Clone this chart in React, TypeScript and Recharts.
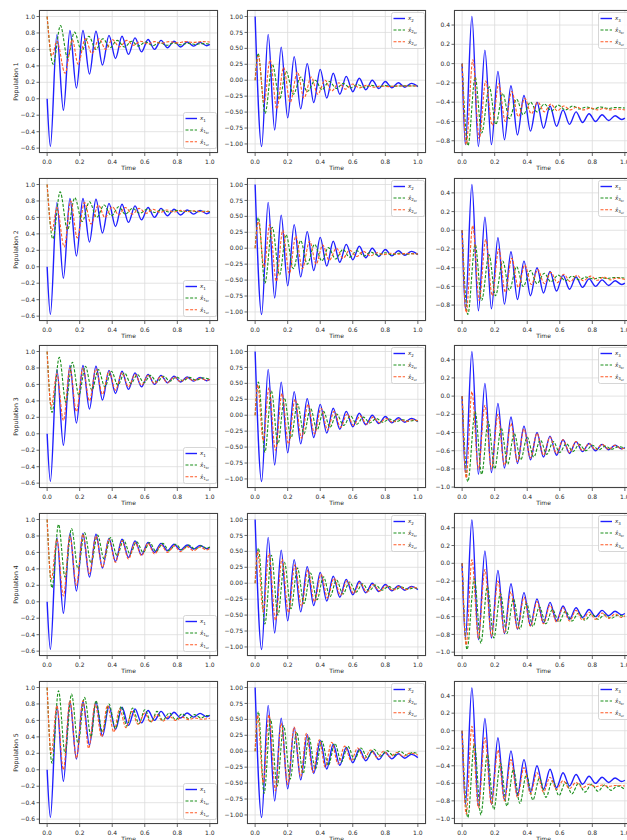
import React from 'react';
import { LineChart, Line, XAxis, YAxis, CartesianGrid, Legend, Label } from 'recharts';

type P = [number, number][];

// ---------- tick labels ----------
const timeTicks = [0, 0.2, 0.4, 0.6, 0.8, 1.0];
const ticksCol1 = [-0.6, -0.4, -0.2, 0, 0.2, 0.4, 0.6, 0.8, 1.0];
const ticksCol2 = [-1, -0.75, -0.5, -0.25, 0, 0.25, 0.5, 0.75, 1];
const ticksCol3a = [-0.8, -0.6, -0.4, -0.2, 0, 0.2, 0.4];
const ticksCol3b = [-1.0, -0.8, -0.6, -0.4, -0.2, 0, 0.2, 0.4];
const populations = ['Population 1', 'Population 2', 'Population 3', 'Population 4', 'Population 5'];

// ---------- true states (same in every row) ----------
const x1True: P = [[0,0],[0.02,-0.58],[0.06,0.78],[0.10,-0.14],[0.14,0.83],[0.18,0.13],[0.22,0.83],[0.26,0.30],[0.30,0.82],[0.34,0.41],[0.38,0.77],[0.42,0.49],[0.46,0.76],[0.50,0.54],[0.54,0.74],[0.58,0.57],[0.62,0.72],[0.66,0.60],[0.70,0.71],[0.74,0.62],[0.78,0.70],[0.82,0.63],[0.86,0.69],[0.90,0.64],[0.94,0.685],[0.98,0.645],[1.0,0.66]];
const x2True: P = [[0,1.0],[0.04,-1.04],[0.08,0.72],[0.12,-0.78],[0.16,0.52],[0.20,-0.59],[0.24,0.37],[0.28,-0.45],[0.32,0.26],[0.36,-0.35],[0.40,0.17],[0.44,-0.28],[0.48,0.11],[0.52,-0.22],[0.56,0.06],[0.60,-0.18],[0.64,0.03],[0.68,-0.15],[0.72,0.0],[0.76,-0.13],[0.80,-0.02],[0.84,-0.12],[0.88,-0.04],[0.92,-0.11],[0.96,-0.05],[1.0,-0.10]];
const x3True: P = [[0,0],[0.02,-0.84],[0.06,0.49],[0.10,-0.86],[0.14,0.14],[0.18,-0.84],[0.22,-0.08],[0.26,-0.79],[0.30,-0.23],[0.34,-0.74],[0.38,-0.33],[0.42,-0.70],[0.46,-0.40],[0.50,-0.67],[0.54,-0.44],[0.58,-0.65],[0.62,-0.48],[0.66,-0.63],[0.70,-0.50],[0.74,-0.61],[0.78,-0.52],[0.82,-0.60],[0.86,-0.53],[0.90,-0.59],[0.94,-0.54],[0.98,-0.58],[1.0,-0.565]];

// ---------- Population 1 estimates ----------
const p1x1br: P = [[0,1.0],[0.037,0.42],[0.082,0.89],[0.125,0.50],[0.168,0.81],[0.212,0.58],[0.256,0.76],[0.30,0.60],[0.343,0.73],[0.387,0.62],[0.43,0.71],[0.475,0.63],[0.52,0.70],[0.56,0.64],[0.605,0.69],[0.65,0.645],[0.69,0.685],[0.735,0.65],[0.78,0.68],[0.82,0.655],[0.865,0.675],[0.91,0.66],[0.95,0.67],[1.0,0.665]];
const p1x1ur: P = [[0,1.0],[0.03,0.52],[0.06,0.70],[0.11,0.31],[0.155,0.72],[0.19,0.42],[0.235,0.73],[0.275,0.55],[0.32,0.73],[0.36,0.60],[0.40,0.72],[0.445,0.63],[0.49,0.71],[0.53,0.65],[0.575,0.70],[0.62,0.665],[0.66,0.695],[0.70,0.675],[0.75,0.695],[0.80,0.68],[0.85,0.695],[0.90,0.685],[0.95,0.695],[1.0,0.69]];
const p1x2br: P = [[0,0],[0.018,0.42],[0.061,-0.52],[0.106,0.25],[0.15,-0.30],[0.19,0.14],[0.235,-0.22],[0.28,0.05],[0.32,-0.18],[0.37,0.0],[0.41,-0.15],[0.455,-0.02],[0.50,-0.13],[0.54,-0.05],[0.585,-0.12],[0.63,-0.07],[0.67,-0.11],[0.71,-0.08],[0.76,-0.10],[0.80,-0.085],[0.85,-0.095],[0.90,-0.088],[1.0,-0.09]];
const p1x2ur: P = [[0,0],[0.02,0.38],[0.055,-0.35],[0.092,0.32],[0.133,-0.45],[0.175,0.20],[0.215,-0.35],[0.26,0.13],[0.30,-0.28],[0.345,0.05],[0.385,-0.22],[0.43,0.0],[0.47,-0.17],[0.515,-0.04],[0.555,-0.14],[0.60,-0.06],[0.64,-0.12],[0.685,-0.08],[0.73,-0.11],[0.77,-0.09],[0.82,-0.10],[0.87,-0.09],[1.0,-0.09]];
const p1x3br: P = [[0,0],[0.036,-0.85],[0.08,-0.14],[0.12,-0.72],[0.167,-0.24],[0.207,-0.63],[0.25,-0.31],[0.29,-0.57],[0.335,-0.37],[0.375,-0.53],[0.42,-0.40],[0.46,-0.50],[0.505,-0.42],[0.55,-0.49],[0.59,-0.43],[0.635,-0.48],[0.68,-0.44],[0.72,-0.47],[0.765,-0.45],[0.81,-0.47],[0.85,-0.45],[0.90,-0.465],[0.94,-0.455],[1.0,-0.46]];
const p1x3ur: P = [[0,0],[0.025,-0.84],[0.066,0.04],[0.105,-0.78],[0.145,-0.18],[0.185,-0.64],[0.225,-0.21],[0.265,-0.60],[0.305,-0.29],[0.345,-0.55],[0.385,-0.36],[0.425,-0.52],[0.465,-0.40],[0.505,-0.50],[0.545,-0.42],[0.585,-0.49],[0.625,-0.44],[0.665,-0.48],[0.705,-0.45],[0.745,-0.48],[0.79,-0.46],[0.83,-0.48],[0.87,-0.465],[0.91,-0.48],[0.95,-0.47],[1.0,-0.48]];

// ---------- Population 2 estimates ----------
const p2x1br: P = [[0,1.0],[0.035,0.34],[0.08,0.91],[0.125,0.45],[0.17,0.84],[0.215,0.55],[0.26,0.79],[0.305,0.60],[0.35,0.75],[0.395,0.62],[0.44,0.73],[0.48,0.64],[0.525,0.71],[0.57,0.65],[0.615,0.70],[0.66,0.66],[0.705,0.69],[0.75,0.665],[0.79,0.685],[0.84,0.67],[0.88,0.68],[0.93,0.67],[0.97,0.675],[1.0,0.67]];
const p2x1ur: P = [[0,1.0],[0.03,0.44],[0.06,0.72],[0.105,0.24],[0.145,0.80],[0.185,0.35],[0.23,0.78],[0.27,0.52],[0.315,0.75],[0.355,0.60],[0.40,0.73],[0.44,0.63],[0.48,0.72],[0.525,0.64],[0.565,0.71],[0.61,0.65],[0.65,0.70],[0.695,0.66],[0.735,0.69],[0.78,0.665],[0.82,0.685],[0.865,0.67],[0.905,0.68],[0.95,0.67],[1.0,0.675]];
const p2x2br: P = [[0,0],[0.02,0.48],[0.06,-0.55],[0.105,0.33],[0.15,-0.42],[0.19,0.21],[0.235,-0.32],[0.28,0.12],[0.32,-0.25],[0.365,0.06],[0.41,-0.20],[0.45,0.01],[0.495,-0.17],[0.54,-0.02],[0.58,-0.14],[0.625,-0.04],[0.67,-0.12],[0.71,-0.06],[0.755,-0.11],[0.80,-0.07],[0.84,-0.10],[0.885,-0.08],[0.93,-0.095],[0.97,-0.085],[1.0,-0.09]];
const p2x2ur: P = [[0,0],[0.02,0.42],[0.055,-0.30],[0.09,0.37],[0.13,-0.52],[0.17,0.28],[0.21,-0.40],[0.25,0.19],[0.29,-0.32],[0.335,0.11],[0.375,-0.25],[0.415,0.05],[0.455,-0.19],[0.50,0.0],[0.54,-0.16],[0.58,-0.03],[0.625,-0.13],[0.665,-0.05],[0.71,-0.12],[0.75,-0.07],[0.79,-0.10],[0.835,-0.08],[0.875,-0.095],[0.92,-0.085],[1.0,-0.09]];
const p2x3br: P = [[0,0],[0.035,-0.90],[0.08,-0.15],[0.12,-0.75],[0.165,-0.26],[0.205,-0.70],[0.25,-0.33],[0.29,-0.64],[0.335,-0.39],[0.375,-0.60],[0.42,-0.43],[0.46,-0.57],[0.505,-0.46],[0.545,-0.55],[0.59,-0.48],[0.635,-0.54],[0.675,-0.49],[0.72,-0.53],[0.76,-0.50],[0.805,-0.52],[0.85,-0.505],[0.89,-0.515],[0.935,-0.505],[1.0,-0.51]];
const p2x3ur: P = [[0,0],[0.025,-0.88],[0.065,0.05],[0.105,-0.75],[0.145,-0.10],[0.185,-0.70],[0.225,-0.20],[0.265,-0.66],[0.305,-0.30],[0.345,-0.61],[0.385,-0.37],[0.425,-0.58],[0.465,-0.42],[0.505,-0.57],[0.545,-0.45],[0.585,-0.56],[0.625,-0.47],[0.665,-0.55],[0.705,-0.48],[0.745,-0.54],[0.79,-0.49],[0.83,-0.535],[0.87,-0.50],[0.91,-0.53],[0.95,-0.51],[1.0,-0.525]];

// ---------- Population 3 estimates ----------
const p3x1br: P = [[0,1.0],[0.03,0.26],[0.075,0.93],[0.115,0.38],[0.155,0.87],[0.195,0.47],[0.235,0.82],[0.275,0.53],[0.315,0.78],[0.355,0.57],[0.395,0.76],[0.435,0.59],[0.475,0.74],[0.515,0.61],[0.555,0.72],[0.595,0.62],[0.635,0.71],[0.675,0.63],[0.715,0.70],[0.755,0.64],[0.795,0.69],[0.835,0.645],[0.875,0.685],[0.915,0.65],[0.955,0.68],[1.0,0.66]];
const p3x1ur: P = [[0,1.0],[0.025,0.33],[0.06,0.73],[0.10,0.16],[0.14,0.80],[0.18,0.27],[0.22,0.80],[0.26,0.40],[0.30,0.79],[0.34,0.48],[0.38,0.76],[0.42,0.53],[0.46,0.74],[0.50,0.57],[0.54,0.72],[0.58,0.59],[0.62,0.71],[0.66,0.61],[0.70,0.70],[0.74,0.62],[0.78,0.69],[0.82,0.635],[0.86,0.68],[0.90,0.645],[0.94,0.675],[0.98,0.65],[1.0,0.66]];
const p3x2br: P = [[0,0],[0.02,0.52],[0.06,-0.58],[0.10,0.38],[0.14,-0.45],[0.18,0.27],[0.22,-0.36],[0.26,0.18],[0.30,-0.29],[0.34,0.11],[0.38,-0.23],[0.42,0.06],[0.46,-0.19],[0.50,0.02],[0.545,-0.16],[0.585,-0.01],[0.625,-0.14],[0.665,-0.03],[0.705,-0.12],[0.745,-0.05],[0.785,-0.11],[0.825,-0.06],[0.865,-0.10],[0.905,-0.07],[0.945,-0.095],[0.98,-0.08],[1.0,-0.09]];
const p3x2ur: P = [[0,0],[0.015,0.48],[0.05,-0.40],[0.085,0.43],[0.125,-0.55],[0.165,0.34],[0.205,-0.45],[0.245,0.25],[0.285,-0.36],[0.325,0.17],[0.365,-0.29],[0.405,0.11],[0.445,-0.23],[0.485,0.06],[0.525,-0.19],[0.565,0.02],[0.605,-0.16],[0.645,-0.01],[0.685,-0.14],[0.725,-0.03],[0.765,-0.12],[0.805,-0.05],[0.845,-0.11],[0.885,-0.06],[0.925,-0.10],[0.965,-0.07],[1.0,-0.09]];
const p3x3br: P = [[0,0],[0.035,-0.94],[0.08,-0.17],[0.12,-0.86],[0.16,-0.28],[0.20,-0.80],[0.24,-0.35],[0.28,-0.75],[0.32,-0.41],[0.36,-0.70],[0.40,-0.45],[0.44,-0.67],[0.48,-0.48],[0.52,-0.64],[0.56,-0.50],[0.60,-0.62],[0.64,-0.52],[0.68,-0.61],[0.72,-0.53],[0.76,-0.60],[0.80,-0.54],[0.84,-0.59],[0.88,-0.55],[0.92,-0.585],[0.96,-0.555],[1.0,-0.575]];
const p3x3ur: P = [[0,0],[0.025,-0.90],[0.06,0.05],[0.10,-0.80],[0.14,-0.10],[0.18,-0.80],[0.22,-0.20],[0.26,-0.76],[0.30,-0.30],[0.34,-0.72],[0.38,-0.36],[0.42,-0.68],[0.46,-0.41],[0.50,-0.65],[0.54,-0.45],[0.58,-0.63],[0.62,-0.48],[0.66,-0.62],[0.70,-0.50],[0.74,-0.60],[0.78,-0.52],[0.82,-0.59],[0.86,-0.53],[0.90,-0.585],[0.94,-0.54],[0.98,-0.58],[1.0,-0.57]];

// ---------- Population 4 estimates ----------
const p4x1br: P = [[0,1.0],[0.03,0.17],[0.07,0.94],[0.11,0.30],[0.15,0.89],[0.19,0.40],[0.23,0.84],[0.27,0.47],[0.31,0.81],[0.35,0.52],[0.39,0.78],[0.43,0.56],[0.47,0.75],[0.51,0.58],[0.55,0.73],[0.59,0.60],[0.63,0.72],[0.67,0.61],[0.71,0.71],[0.75,0.62],[0.79,0.70],[0.83,0.63],[0.87,0.69],[0.91,0.64],[0.95,0.68],[0.98,0.65],[1.0,0.665]];
const p4x1ur: P = [[0,1.0],[0.025,0.27],[0.06,0.76],[0.10,0.07],[0.14,0.80],[0.18,0.20],[0.22,0.82],[0.26,0.34],[0.30,0.80],[0.34,0.42],[0.38,0.76],[0.42,0.48],[0.46,0.74],[0.50,0.52],[0.54,0.72],[0.58,0.56],[0.62,0.71],[0.66,0.58],[0.70,0.69],[0.74,0.60],[0.78,0.68],[0.82,0.61],[0.86,0.67],[0.90,0.62],[0.94,0.665],[0.98,0.63],[1.0,0.65]];
const p4x2br: P = [[0,0],[0.02,0.55],[0.06,-0.64],[0.10,0.44],[0.14,-0.50],[0.18,0.33],[0.22,-0.40],[0.26,0.24],[0.30,-0.32],[0.34,0.16],[0.38,-0.26],[0.42,0.10],[0.46,-0.21],[0.50,0.05],[0.54,-0.17],[0.58,0.02],[0.62,-0.14],[0.66,-0.01],[0.70,-0.12],[0.74,-0.03],[0.78,-0.11],[0.82,-0.05],[0.86,-0.10],[0.90,-0.06],[0.94,-0.095],[0.98,-0.07],[1.0,-0.09]];
const p4x2ur: P = [[0,0],[0.015,0.50],[0.05,-0.45],[0.085,0.47],[0.125,-0.58],[0.165,0.38],[0.205,-0.46],[0.245,0.29],[0.285,-0.36],[0.325,0.21],[0.365,-0.29],[0.405,0.14],[0.445,-0.23],[0.485,0.08],[0.525,-0.19],[0.565,0.04],[0.605,-0.16],[0.645,0.01],[0.685,-0.14],[0.725,-0.02],[0.765,-0.12],[0.805,-0.04],[0.845,-0.11],[0.885,-0.05],[0.925,-0.10],[0.965,-0.06],[1.0,-0.085]];
const p4x3br: P = [[0,0],[0.03,-0.97],[0.075,-0.17],[0.115,-0.90],[0.155,-0.26],[0.195,-0.84],[0.235,-0.34],[0.275,-0.79],[0.315,-0.40],[0.355,-0.74],[0.395,-0.45],[0.435,-0.71],[0.475,-0.49],[0.515,-0.68],[0.555,-0.52],[0.595,-0.66],[0.635,-0.54],[0.675,-0.65],[0.715,-0.56],[0.755,-0.64],[0.795,-0.57],[0.835,-0.63],[0.875,-0.58],[0.915,-0.62],[0.955,-0.585],[1.0,-0.60]];
const p4x3ur: P = [[0,0],[0.025,-0.92],[0.06,0.04],[0.10,-0.84],[0.14,-0.07],[0.18,-0.82],[0.22,-0.20],[0.26,-0.78],[0.30,-0.32],[0.34,-0.74],[0.38,-0.38],[0.42,-0.71],[0.46,-0.43],[0.50,-0.68],[0.54,-0.47],[0.58,-0.66],[0.62,-0.50],[0.66,-0.65],[0.70,-0.53],[0.74,-0.64],[0.78,-0.55],[0.82,-0.63],[0.86,-0.56],[0.90,-0.62],[0.94,-0.57],[0.98,-0.61],[1.0,-0.59]];

// ---------- Population 5 estimates ----------
const p5x1br: P = [[0,1.0],[0.03,0.08],[0.07,0.96],[0.11,0.20],[0.15,0.92],[0.19,0.32],[0.23,0.88],[0.27,0.40],[0.30,0.84],[0.34,0.46],[0.38,0.80],[0.42,0.50],[0.455,0.77],[0.49,0.53],[0.525,0.75],[0.565,0.56],[0.60,0.73],[0.64,0.58],[0.675,0.71],[0.71,0.60],[0.75,0.69],[0.79,0.61],[0.83,0.68],[0.87,0.62],[0.905,0.67],[0.945,0.63],[0.98,0.66],[1.0,0.655]];
const p5x1ur: P = [[0,1.0],[0.025,0.20],[0.06,0.78],[0.10,0.0],[0.14,0.84],[0.18,0.14],[0.22,0.84],[0.255,0.26],[0.295,0.80],[0.335,0.40],[0.37,0.78],[0.41,0.46],[0.445,0.74],[0.485,0.51],[0.52,0.71],[0.56,0.55],[0.60,0.69],[0.635,0.58],[0.675,0.67],[0.71,0.59],[0.75,0.65],[0.79,0.60],[0.83,0.64],[0.87,0.61],[0.91,0.63],[0.95,0.615],[1.0,0.625]];
const p5x2br: P = [[0,0],[0.02,0.62],[0.055,-0.66],[0.095,0.50],[0.135,-0.55],[0.175,0.40],[0.215,-0.44],[0.255,0.30],[0.295,-0.35],[0.33,0.22],[0.37,-0.28],[0.41,0.16],[0.45,-0.22],[0.49,0.12],[0.53,-0.17],[0.57,0.08],[0.61,-0.13],[0.65,0.05],[0.69,-0.10],[0.73,0.03],[0.77,-0.08],[0.81,0.01],[0.85,-0.07],[0.89,0.0],[0.93,-0.06],[0.97,-0.02],[1.0,-0.04]];
const p5x2ur: P = [[0,0],[0.015,0.57],[0.05,-0.50],[0.085,0.57],[0.125,-0.62],[0.16,0.44],[0.20,-0.52],[0.24,0.38],[0.28,-0.40],[0.315,0.28],[0.355,-0.33],[0.395,0.18],[0.43,-0.25],[0.47,0.14],[0.51,-0.20],[0.55,0.08],[0.59,-0.15],[0.63,0.05],[0.67,-0.12],[0.71,0.02],[0.75,-0.10],[0.79,0.0],[0.83,-0.09],[0.87,-0.02],[0.91,-0.08],[0.95,-0.03],[1.0,-0.06]];
const p5x3br: P = [[0,0],[0.035,-0.99],[0.075,-0.15],[0.115,-0.96],[0.155,-0.27],[0.195,-0.90],[0.235,-0.37],[0.275,-0.86],[0.315,-0.44],[0.355,-0.83],[0.395,-0.50],[0.435,-0.79],[0.475,-0.54],[0.515,-0.76],[0.555,-0.57],[0.595,-0.74],[0.635,-0.59],[0.675,-0.72],[0.715,-0.60],[0.755,-0.70],[0.795,-0.61],[0.835,-0.69],[0.875,-0.62],[0.915,-0.68],[0.955,-0.63],[1.0,-0.67]];
const p5x3ur: P = [[0,0],[0.025,-0.95],[0.06,0.05],[0.10,-0.88],[0.14,-0.08],[0.18,-0.84],[0.22,-0.22],[0.26,-0.80],[0.30,-0.33],[0.34,-0.76],[0.38,-0.42],[0.42,-0.72],[0.46,-0.48],[0.50,-0.70],[0.54,-0.53],[0.58,-0.67],[0.62,-0.57],[0.66,-0.66],[0.70,-0.59],[0.74,-0.65],[0.78,-0.61],[0.82,-0.64],[0.86,-0.62],[0.90,-0.635],[0.94,-0.625],[1.0,-0.63]];

// ---------- layout & style ----------
const BLUE = '#1f1fff';
const GREEN = '#1a8f1a';
const ORANGE = '#ff5a26';
const DASH = '3 1.6';
const FONT = 'DejaVu Sans';
const TEXT = '#262626';

const PLOT_W = 179;
const PLOT_H = 143;
const ML = 37; // y-axis width
const MT = 5;
const MR = 5;
const XH = 25;
const CH_W = ML + PLOT_W + MR;
const CH_H = MT + PLOT_H + XH;
const colLefts = [39, 247, 454];
const rowTops = [10, 178, 345, 513, 681];

const col1Domain: [number, number] = [-0.659, 1.079];
const col2Domain: [number, number] = [-1.142, 1.102];
const col3Domains: [number, number][] = [[-0.927, 0.556], [-0.97, 0.559], [-1.01, 0.562], [-1.043, 0.566], [-1.064, 0.567]];

const estimates: P[][][] = [
  [[p1x1br, p1x1ur], [p1x2br, p1x2ur], [p1x3br, p1x3ur]],
  [[p2x1br, p2x1ur], [p2x2br, p2x2ur], [p2x3br, p2x3ur]],
  [[p3x1br, p3x1ur], [p3x2br, p3x2ur], [p3x3br, p3x3ur]],
  [[p4x1br, p4x1ur], [p4x2br, p4x2ur], [p4x3br, p4x3ur]],
  [[p5x1br, p5x1ur], [p5x2br, p5x2ur], [p5x3br, p5x3ur]],
];
const trueStates = [x1True, x2True, x3True];

const toRows = (p: P) => p.map(([t, v]) => ({ t, v }));
const fmt = (d: number) => (v: number) => {
  const s = Math.abs(v).toFixed(d);
  return v < -1e-9 ? '\u2212' + s : s;
};

function LegendBox({ idx }: { idx: number }) {
  const items = [
    { color: BLUE, dash: undefined as string | undefined, hat: false, sub: '', w: 1.4 },
    { color: GREEN, dash: DASH, hat: true, sub: 'br', w: 1.1 },
    { color: ORANGE, dash: DASH, hat: true, sub: 'ur', w: 1.1 },
  ];
  const ys = [6.5, 18, 29.8];
  return (
    <svg width={34} height={37} style={{ display: 'block', overflow: 'visible' }}>
      <rect x={0.5} y={0.5} width={33} height={36} rx={2} fill="#ffffff" fillOpacity={0.85} stroke="#cccccc" strokeWidth={0.8} />
      {items.map((it, i) => (
        <g key={i}>
          <line x1={2.5} x2={14} y1={ys[i]} y2={ys[i]} stroke={it.color} strokeWidth={it.w} strokeDasharray={it.dash} />
          <text x={17} y={ys[i] + 1.8} fontSize={5.5} fontFamily={FONT} fill={TEXT}>
            <tspan fontStyle="italic">{it.hat ? 'x\u0302' : 'x'}</tspan>
            <tspan fontSize={4} dy={1.2}>{idx}</tspan>
            {it.hat ? <tspan fontSize={3} dy={0.9}>{it.sub}</tspan> : null}
          </text>
        </g>
      ))}
    </svg>
  );
}

function Panel({ row, col }: { row: number; col: number }) {
  const domain = col === 0 ? col1Domain : col === 1 ? col2Domain : col3Domains[row];
  const ticks = col === 0 ? ticksCol1 : col === 1 ? ticksCol2 : row < 2 ? ticksCol3a : ticksCol3b;
  const dec = col === 1 ? 2 : 1;
  const [br, ur] = estimates[row][col];
  const legendLeft = ML + PLOT_W - 1.5 - 34;
  const legendTop = col === 0 ? MT + PLOT_H - 4 - 37 : MT + 1.5;
  const tickStyle = { fontSize: 6, fill: TEXT, fontFamily: FONT };
  return (
    <div style={{ position: 'absolute', left: colLefts[col] - ML, top: rowTops[row] - MT, width: CH_W, height: CH_H }}>
      <LineChart width={CH_W} height={CH_H} margin={{ top: MT, right: MR, left: 0, bottom: 0 }}>
        <CartesianGrid stroke="#dcdcdc" strokeWidth={0.8} />
        <XAxis
          type="number"
          dataKey="t"
          domain={[-0.05, 1.05]}
          ticks={timeTicks}
          interval={0}
          allowDataOverflow
          height={XH}
          axisLine={false}
          tickLine={{ stroke: '#444', strokeWidth: 0.8 }}
          tickSize={3}
          tickMargin={3.5}
          tick={tickStyle}
          tickFormatter={fmt(1)}
        >
          <Label
            content={() => (
              <text x={ML + PLOT_W / 2} y={MT + PLOT_H + 17} textAnchor="middle" fontSize={6} fontFamily={FONT} fill={TEXT}>
                Time
              </text>
            )}
          />
        </XAxis>
        <YAxis
          type="number"
          domain={domain}
          ticks={ticks}
          interval={0}
          allowDataOverflow
          width={ML}
          axisLine={false}
          tickLine={{ stroke: '#444', strokeWidth: 0.8 }}
          tickSize={2.5}
          tickMargin={1.5}
          tick={tickStyle}
          tickFormatter={fmt(dec)}
        >
          {col === 0 ? (
            <Label
              content={() => (
                <text
                  x={13}
                  y={MT + PLOT_H / 2}
                  transform={`rotate(-90 13 ${MT + PLOT_H / 2})`}
                  textAnchor="middle"
                  dominantBaseline="central"
                  fontSize={6.2}
                  fontFamily={FONT}
                  fill={TEXT}
                >
                  {populations[row]}
                </text>
              )}
            />
          ) : null}
        </YAxis>
        <Line data={toRows(trueStates[col])} dataKey="v" type="monotone" stroke={BLUE} strokeWidth={1.4} dot={false} isAnimationActive={false} name="true" />
        <Line data={toRows(br)} dataKey="v" type="monotone" stroke={GREEN} strokeWidth={1.1} strokeDasharray={DASH} dot={false} isAnimationActive={false} name="br" />
        <Line data={toRows(ur)} dataKey="v" type="monotone" stroke={ORANGE} strokeWidth={1.1} strokeDasharray={DASH} dot={false} isAnimationActive={false} name="ur" />
        <Legend
          layout="vertical"
          align="center"
          verticalAlign="middle"
          wrapperStyle={{ position: 'absolute', left: legendLeft, top: legendTop, width: 34, height: 37, margin: 0, padding: 0 }}
          content={() => <LegendBox idx={col + 1} />}
        />
      </LineChart>
      <div
        style={{
          position: 'absolute',
          left: ML,
          top: MT,
          width: PLOT_W,
          height: PLOT_H,
          border: '1px solid #444',
          boxSizing: 'border-box',
          pointerEvents: 'none',
        }}
      />
    </div>
  );
}

export default function App() {
  const cells: React.ReactNode[] = [];
  for (let r = 0; r < 5; r++) for (let c = 0; c < 3; c++) cells.push(<Panel key={`${r}-${c}`} row={r} col={c} />);
  return (
    <div style={{ position: 'absolute', left: 0, top: 0, width: 627, height: 840, overflow: 'hidden', background: '#fff' }}>
      {cells}
    </div>
  );
}
